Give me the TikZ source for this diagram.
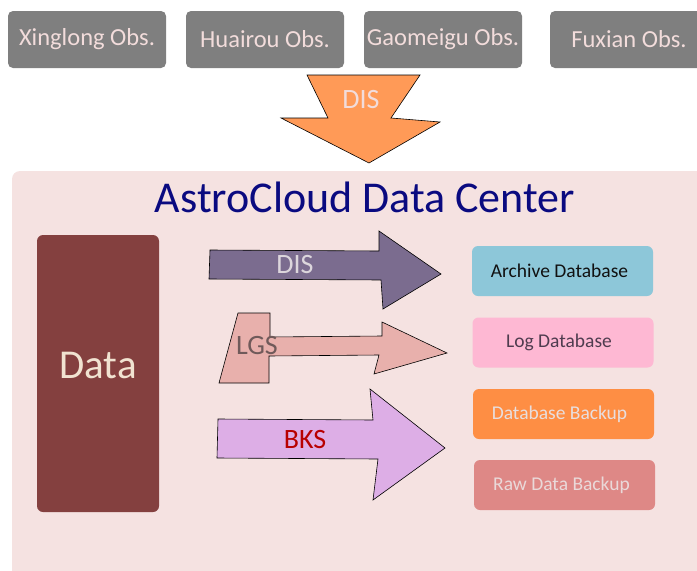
\documentclass[tikz,border=0pt]{standalone}
\usepackage{fontspec}
\setmainfont{Carlito}
\definecolor{obsgray}{HTML}{7F7F7F}
\definecolor{obstext}{HTML}{F2DCDB}
\definecolor{arrorange}{HTML}{FF9A57}
\definecolor{bgpink}{HTML}{F5E2E1}
\definecolor{titlenavy}{HTML}{0A0A80}
\definecolor{databrown}{HTML}{84403F}
\definecolor{datatext}{HTML}{F1E3D1}
\definecolor{dispurple}{HTML}{7B6C8F}
\definecolor{distext}{HTML}{DCD6DC}
\definecolor{lgsfill}{HTML}{E8B0AC}
\definecolor{lgstext}{HTML}{705A5A}
\definecolor{bksfill}{HTML}{DDAEE6}
\definecolor{bkstext}{HTML}{B80000}
\definecolor{archivefill}{HTML}{8DC7D9}
\definecolor{archivetext}{HTML}{111111}
\definecolor{logfill}{HTML}{FEB8D3}
\definecolor{logtext}{HTML}{4F3C4F}
\definecolor{dbbfill}{HTML}{FE8E44}
\definecolor{dbbtext}{HTML}{E8DEDE}
\definecolor{rawfill}{HTML}{DE8886}
\definecolor{rawtext}{HTML}{EAD9D9}
\begin{document}
\begin{tikzpicture}[x=1pt,y=-1pt,
  obs/.style={rounded corners=5pt, fill=obsgray, text=obstext, font=\fontsize{24.5}{28}\selectfont,
    minimum width=158pt, minimum height=57pt, inner sep=0pt},
  dbbox/.style={rounded corners=6pt, minimum width=181pt, minimum height=50pt, inner sep=0pt,
    font=\fontsize{19.5}{22}\selectfont},
  arrowshape/.style={draw=black, line width=0.6pt, line join=miter},
  arrlabel/.style={font=\fontsize{28}{32}\selectfont, inner sep=0pt}
]
\useasboundingbox (0,0) rectangle (697,571);
\clip (0,0) rectangle (697,571);

% background panel
\fill[bgpink, rounded corners=8pt] (12,171) rectangle (720,600);
\node[font=\fontsize{44}{50}\selectfont, text=titlenavy, inner sep=0pt] (title) at (365,197) {AstroCloud Data Center};

% observatories
\node[obs] (xing) at (87,39.5) {Xinglong Obs.};
\node[obs] (huai) at (265,39.5) {Huairou Obs.};
\node[obs] (gaom) at (443,39.5) {Gaomeigu Obs.};
\node[obs] (fux) at (629,39.5) {Fuxian Obs.};

% top down arrow
\filldraw[arrowshape, fill=arrorange] (307,75) -- (420,75) -- (391,118) -- (440,122) -- (369,163) -- (281,118) -- (328,118) -- cycle;
\node[arrlabel, text=obstext] (topdis) at (361,100) {DIS};

% data block
\node[fill=databrown, rounded corners=6pt, minimum width=122pt, minimum height=277pt, inner sep=0pt,
  text=datatext, font=\fontsize{41}{46}\selectfont] (data) at (98,373.5) {};
\node[text=datatext, font=\fontsize{41}{46}\selectfont, inner sep=0pt] (datalabel) at (98,365) {Data};

% DIS arrow
\filldraw[arrowshape, fill=dispurple] (210,250) -- (379,251) -- (379,231) -- (441,274) -- (383,309) -- (381,280) -- (209,279) -- cycle;
\node[arrlabel, text=distext] (dis) at (295,265) {DIS};

% LGS arrow
\filldraw[arrowshape, fill=lgsfill] (238,313) -- (270,313) -- (270,337) -- (382,336) -- (382,322) -- (447,353) -- (374,374) -- (379,355) -- (269,356) -- (269,383) -- (219,383) -- cycle;
\node[arrlabel, text=lgstext] (lgs) at (257,346) {LGS};

% BKS arrow
\filldraw[arrowshape, fill=bksfill] (218,419) -- (373,420) -- (370,389) -- (445,448) -- (373,500) -- (378,459) -- (217,458) -- cycle;
\node[arrlabel, text=bkstext] (bks) at (305,440) {BKS};

% databases
\node[dbbox, fill=archivefill, text=archivetext] (arch) at (562.5,271) {\hspace*{-6pt}Archive Database};
\node[dbbox, fill=logfill, text=logtext] (logdb) at (563,342.5) {\hspace*{-8pt}Log Database};
\node[dbbox, fill=dbbfill, text=dbbtext] (dbb) at (563.5,414) {\hspace*{-8pt}Database Backup};
\node[dbbox, fill=rawfill, text=rawtext] (raw) at (564.5,485) {\hspace*{-6pt}Raw Data Backup};
\end{tikzpicture}
\end{document}
